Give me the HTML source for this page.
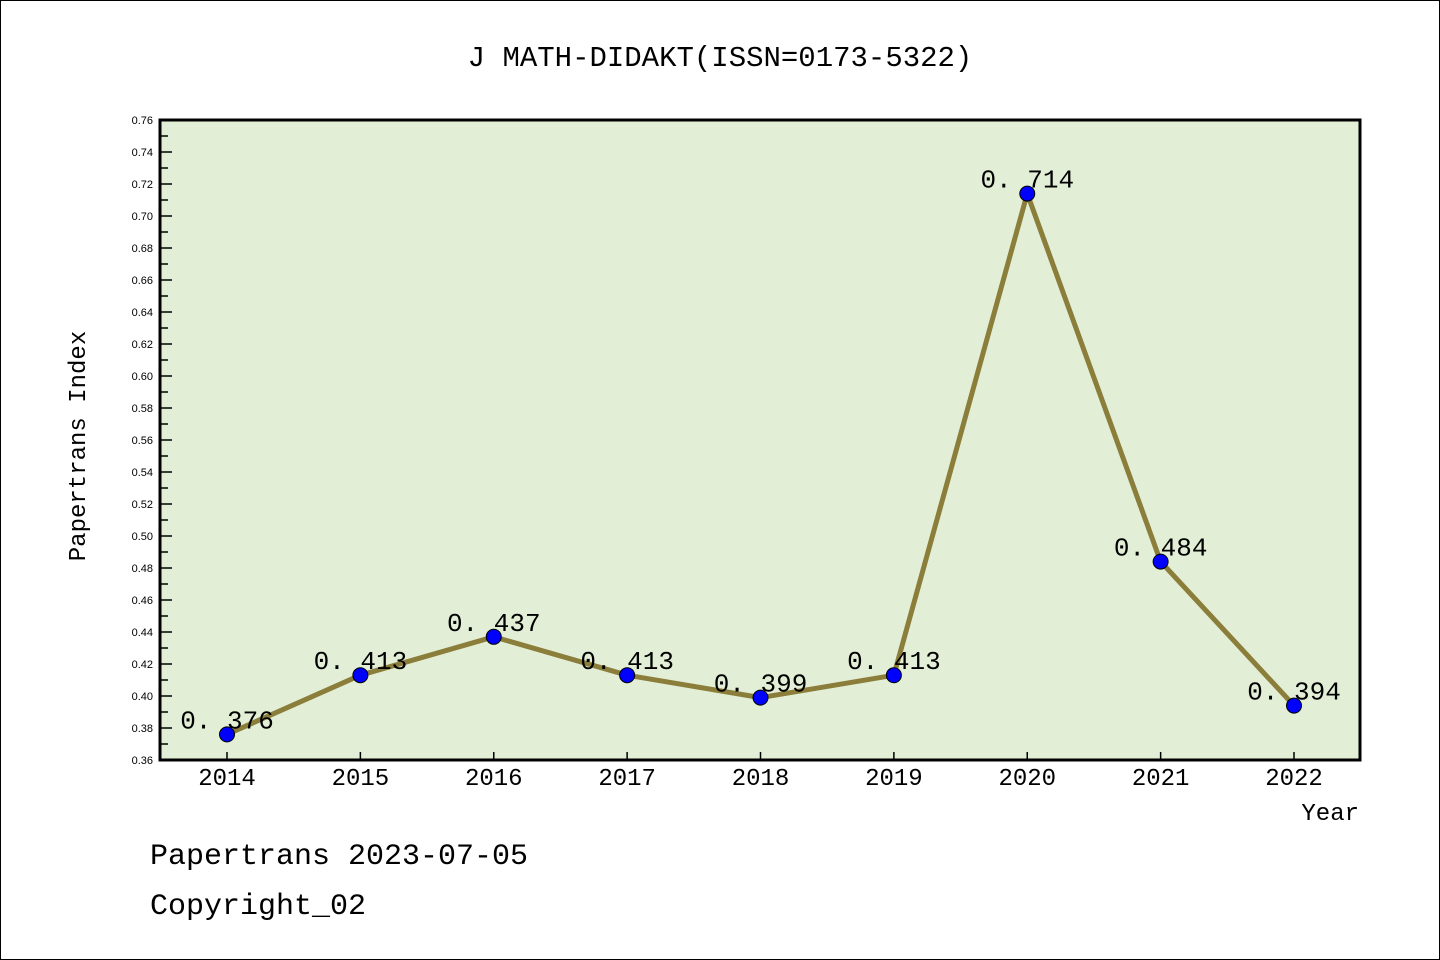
<!DOCTYPE html>
<html><head><meta charset="utf-8"><style>
body{margin:0;background:#fff}
svg{display:block}
text{font-family:"Liberation Mono","Noto Sans CJK SC",monospace;fill:#000}
.tk{font-family:"Liberation Sans","DejaVu Sans",sans-serif;font-size:11px}
</style></head><body>
<svg id="c" width="1440" height="960">
<rect x="0.5" y="0.5" width="1439" height="959" fill="#fff" stroke="#000"/>
<text x="720" y="66" font-size="29" text-anchor="middle">J MATH-DIDAKT(ISSN=0173-5322)</text>
<rect x="160" y="120" width="1200" height="640" fill="#e2efd6"/>
<g id="ticks"></g>
<g id="series"></g>
<rect x="160" y="120" width="1200" height="640" fill="none" stroke="#000" stroke-width="3"/>
<text transform="translate(85,446) rotate(-90)" font-size="24" text-anchor="middle">Papertrans Index</text>
<text x="1359" y="820" font-size="24" text-anchor="end">Year</text>
<text x="150" y="864" font-size="30">Papertrans 2023-07-05</text>
<text x="150" y="914" font-size="30">Copyright_02</text>
</svg>
<script>
const years=[2014,2015,2016,2017,2018,2019,2020,2021,2022];
const values=[0.376,0.413,0.437,0.413,0.399,0.413,0.714,0.484,0.394];
const labels=["0. 376","0. 413","0. 437","0. 413","0. 399","0. 413","0. 714","0. 484","0. 394"];
const yMin=0.36,yMax=0.76;
const NS="http://www.w3.org/2000/svg";
function X(i){return 227+i*(1294-227)/(years.length-1);}
function Y(v){return 760-(v-yMin)/(yMax-yMin)*640;}
function mk(t,a,p){const e=document.createElementNS(NS,t);for(const k in a)e.setAttribute(k,a[k]);p.appendChild(e);return e;}
const tg=document.getElementById('ticks');
for(let k=0;k<=40;k++){
  const v=yMin+k*0.01,y=Y(v);
  const major=k%2===0;
  const l=mk('line',{x1:160,x2:160+(major?12:8),y1:y,y2:y,stroke:'#000','stroke-width':1.5},tg);
  
  
  if(major){const t=mk('text',{x:153,y:y+4,'text-anchor':'end',class:'tk'},tg);t.textContent=v.toFixed(2);
  
  }
}
years.forEach((yr,i)=>{
  const l=mk('line',{x1:X(i),x2:X(i),y1:752,y2:760,stroke:'#000','stroke-width':1.5},tg);
  
  
  const t=mk('text',{x:X(i),y:785,'text-anchor':'middle','font-size':24},tg);t.textContent=yr;
  
  
});
const sg=document.getElementById('series');
const pl=mk('polyline',{points:values.map((v,i)=>X(i)+','+Y(v)).join(' '),fill:'none',stroke:'#8b7d3a','stroke-width':5,'stroke-linejoin':'round'},sg);


values.forEach((v,i)=>{
  const c=mk('circle',{cx:X(i),cy:Y(v),r:7.5,fill:'#0000ff',stroke:'#000','stroke-width':1},sg);
  
  
  const t=mk('text',{x:X(i),y:Y(v)-6,'text-anchor':'middle','font-size':26},sg);t.textContent=labels[i];
  
  
});
</script>
</body></html>
